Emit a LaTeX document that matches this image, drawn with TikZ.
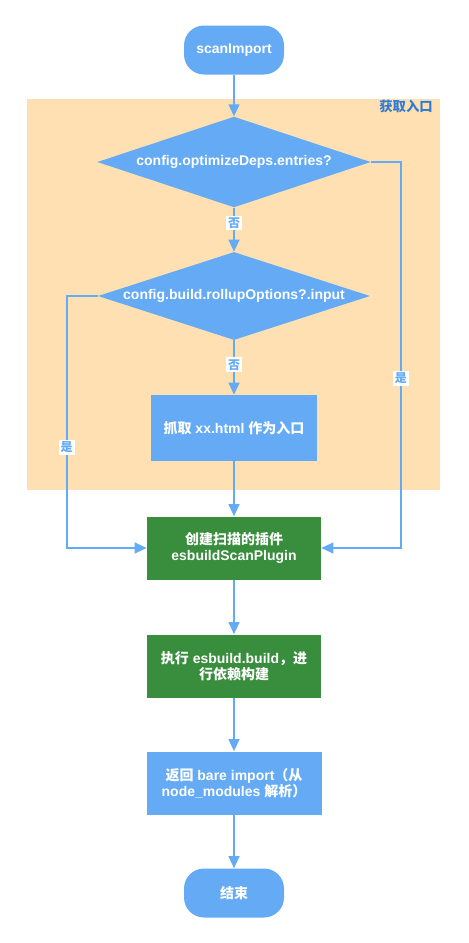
\documentclass[tikz,border=0pt]{standalone}
\usepackage{fontspec}
\setmainfont{Liberation Sans}
\newfontfamily\cjk{Noto Sans CJK SC}
\usetikzlibrary{shapes.geometric,arrows.meta}
\definecolor{flowblue}{HTML}{64AAF5}
\definecolor{flowgreen}{HTML}{388E3C}
\definecolor{zoneorange}{HTML}{FFE0B2}
\definecolor{zonetext}{HTML}{2E7BD3}
\begin{document}
\begin{tikzpicture}[x=0.75pt,y=-0.75pt,
    font=\fontsize{10.5}{12}\selectfont\bfseries,
    terminal/.style={rectangle,rounded corners=15pt,fill=flowblue,text=white,
      minimum width=75pt,minimum height=36.75pt},
    decision/.style={diamond,aspect=3,inner sep=0pt,fill=flowblue,text=white,
      minimum width=204pt,minimum height=66pt},
    action/.style={rectangle,fill=flowblue,text=white,align=center,
      minimum width=124.5pt,minimum height=49.5pt},
    stage/.style={rectangle,fill=flowgreen,text=white,align=center,
      minimum width=130.5pt,minimum height=47.25pt},
    flow/.style={draw=flowblue,line width=1.5pt,-{Triangle[length=9pt,width=8pt]}},
    answer/.style={fill=white,text=flowblue,inner sep=1.5pt,
      font=\cjk\fontsize{9}{10}\selectfont\bfseries}]
  \useasboundingbox (0,0) rectangle (468,943);
  % region of the entry lookup
  \fill[zoneorange] (27,99) rectangle (440,490);
  \node[text=zonetext,anchor=north east,inner sep=0pt] (zonelabel) at (433,100)
    {\cjk\fontsize{10}{12}\selectfont\bfseries 获取入口};
  \draw
    (234,50) node[terminal] (start){scanImport}
    (234,162) node[decision,minimum width=205pt,minimum height=68pt] (entries){config.optimizeDeps.entries?}
    (234,296) node[decision] (rollup){config.build.rollupOptions?.input}
    (234,428) node[action,minimum height=49.5pt] (html){{\cjk 抓取} xx.html {\cjk 作为入口}}
    (234,548) node[stage] (plugin){{\cjk 创建扫描的插件}\\esbuildScanPlugin}
    (234,666) node[stage] (build){{\cjk 执行} esbuild.build{\cjk ，进}\\{\cjk 行依赖构建}}
    (234,783) node[action,minimum width=131.25pt,minimum height=47.25pt] (result){{\cjk 返回} bare import{\cjk （从}\\node\_modules {\cjk 解析）}}
    (234,893) node[terminal] (stop){\cjk 结束};
  \begin{scope}[flow]
    \draw (start) to (entries);
    \draw (entries) to node[answer,pos=0.35]{否} (rollup);
    \draw (entries.east) -- ++(30,0) |- node[answer,pos=0.28]{是} (plugin.east);
    \draw (rollup) to node[answer,pos=0.45]{否} (html);
    \draw (rollup.west) -- ++(-31,0) |- node[answer,pos=0.3]{是} (plugin.west);
    \draw (html) to (plugin);
    \draw (plugin) to (build);
    \draw (build) to (result);
    \draw (result) to (stop);
  \end{scope}
\end{tikzpicture}
\end{document}
